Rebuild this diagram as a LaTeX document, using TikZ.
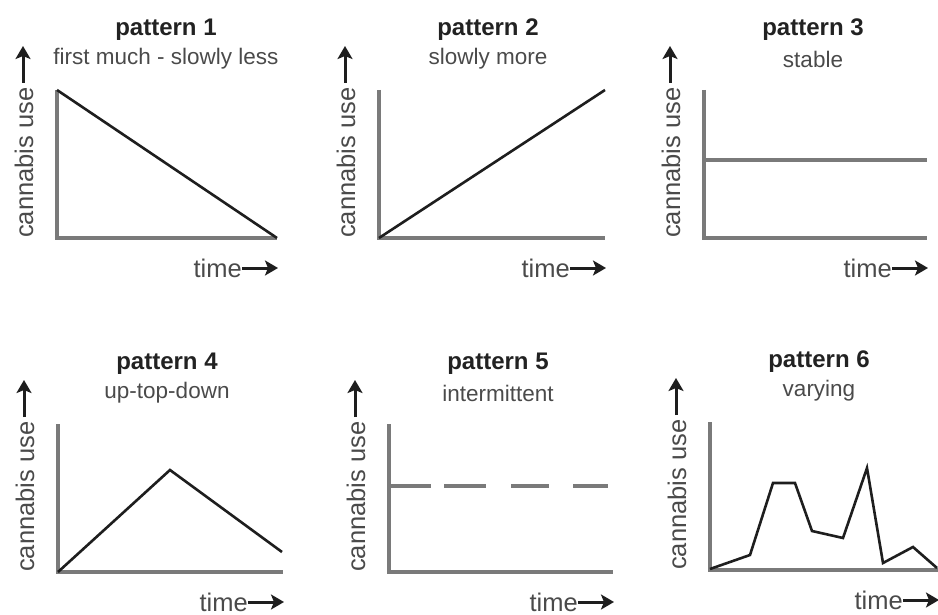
\documentclass[tikz,border=0pt]{standalone}
\usepackage{fontspec}
\setmainfont{Liberation Sans}
\usetikzlibrary{arrows.meta}
\definecolor{axisgrey}{HTML}{7A7A7A}
\definecolor{datablack}{HTML}{1E1E1E}
\definecolor{txtdark}{HTML}{222222}
\definecolor{txtgrey}{HTML}{4A4A4A}
\tikzset{
  axisline/.style={draw=axisgrey,line width=4pt,line cap=butt,line join=miter},
  dataline/.style={draw=datablack,line width=2.6pt,line join=miter},
  greyline/.style={draw=axisgrey,line width=4pt},
  titlef/.style={inner sep=0pt,text=txtdark,font=\fontsize{24}{28}\selectfont\bfseries},
  subf/.style={inner sep=0pt,text=txtgrey,font=\fontsize{22.5}{27}\selectfont},
  labelf/.style={inner sep=0pt,text=txtgrey,font=\fontsize{25.5}{30}\selectfont},
  txtarrow/.style={draw=datablack,line width=3pt,-{Stealth[length=13pt,width=15pt,inset=3pt]}},
}
% #1 name, #2 ox, #3 oy (bottom), #4 width, #5 title, #6 subtitle
\newcommand\mypanel[6]{%
  \begin{scope}[shift={(#2,#3)}]
    \coordinate (#1o) at (0,0);
    \coordinate (#1t) at (0,-148);
    \coordinate (#1r) at (#4,0);
    \draw[axisline] (#1t) -- (#1o) -- (#1r);
    \node[titlef] (#1ti) at (109,-208) {#5};
    \node[subf] (#1st) at (109,-179) {#6};
    \node[labelf,rotate=90,anchor=west] (#1yl) at (-33,0) {cannabis use};
    \coordinate (#1ya) at (-34,-155);
    \coordinate (#1yb) at (-34,-192);
    \draw[txtarrow] (#1ya) -- (#1yb);
    \coordinate (#1xa) at (#4-35,30);
    \coordinate (#1xb) at (#4+1,30);
    \node[labelf,anchor=east] (#1tm) at (#1xa) {time};
    \draw[txtarrow] (#1tm.east) -- (#1xb);
  \end{scope}}
\begin{document}
\begin{tikzpicture}[x=1pt,y=-1pt]
\useasboundingbox (0,0) rectangle (938,615);
% top row
\mypanel{a}{57}{238}{220}{pattern 1}{first much - slowly less}
\mypanel{b}{379}{238}{226}{pattern 2}{slowly more}
\mypanel{c}{704}{238}{223}{pattern 3}{stable}
% bottom row
\mypanel{d}{58}{572}{225}{pattern 4}{up-top-down}
\mypanel{e}{389}{572}{224}{pattern 5}{intermittent}
\mypanel{f}{710}{570}{228}{pattern 6}{varying}
% data
\draw[dataline] (at) -- (ar);
\draw[dataline] (bo) -- (605,90);
\draw[greyline] (704,160) -- (927,160);
\draw[dataline] (do) -- (170,470) -- (282,552);
\draw[greyline,dash pattern=on 41pt off 13pt on 42pt off 25pt on 38pt off 24pt on 36pt off 20pt] (390,486) -- (608,486);
\draw[dataline] (710,569) -- (750,555) -- (773,483) -- (795,483) -- (812,531) -- (843,538) -- (867,468) -- (883,563) -- (913,547) -- (937,568);
\end{tikzpicture}
\end{document}
